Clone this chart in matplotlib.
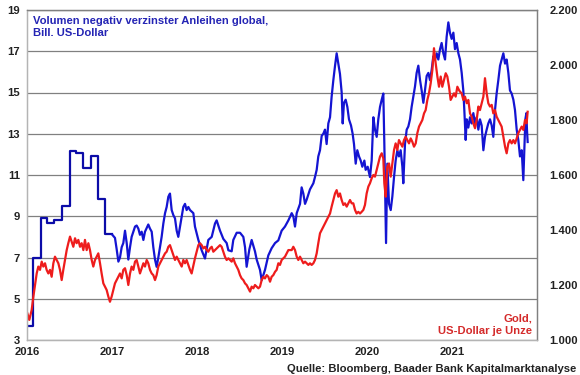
import matplotlib
matplotlib.use("Agg")
import matplotlib.pyplot as plt

plt.rcParams['font.family'] = ['Liberation Sans', 'DejaVu Sans']
plt.rcParams['font.weight'] = 'bold'

# Volumen negativ verzinster Anleihen (Bill. USD), 2016 monatlich
BLUE_2016_X = [2016.0, 2016.07, 2016.16, 2016.24, 2016.32, 2016.41, 2016.50,
               2016.58, 2016.66, 2016.75, 2016.83, 2016.92]
BLUE_2016_Y = [3.7, 7.0, 8.93, 8.66, 8.82, 9.51, 12.15, 12.05, 11.35, 11.94, 9.82, 8.14]

# ab 2017 täglich
BLUE_X = [2017.004, 2017.035, 2017.055, 2017.075, 2017.094, 2017.114, 2017.133, 2017.153,
          2017.173, 2017.192, 2017.212, 2017.231, 2017.271, 2017.29, 2017.31, 2017.329,
          2017.349, 2017.369, 2017.388, 2017.427, 2017.447, 2017.467, 2017.486, 2017.506,
          2017.525, 2017.545, 2017.565, 2017.584, 2017.604, 2017.624, 2017.643, 2017.663,
          2017.682, 2017.702, 2017.722, 2017.741, 2017.761, 2017.78, 2017.8, 2017.82,
          2017.839, 2017.859, 2017.878, 2017.898, 2017.918, 2017.957, 2017.976, 2018.016,
          2018.055, 2018.094, 2018.133, 2018.173, 2018.212, 2018.231, 2018.271, 2018.31,
          2018.349, 2018.369, 2018.408, 2018.427, 2018.467, 2018.506, 2018.545, 2018.565,
          2018.584, 2018.616, 2018.643, 2018.682, 2018.702, 2018.741, 2018.761, 2018.8,
          2018.839, 2018.878, 2018.918, 2018.957, 2018.996, 2019.035, 2019.075, 2019.114,
          2019.133, 2019.153, 2019.173, 2019.212, 2019.231, 2019.251, 2019.271, 2019.29,
          2019.329, 2019.369, 2019.388, 2019.408, 2019.427, 2019.447, 2019.467, 2019.486,
          2019.506, 2019.525, 2019.545, 2019.565, 2019.584, 2019.604, 2019.624, 2019.643,
          2019.663, 2019.682, 2019.702, 2019.714, 2019.729, 2019.749, 2019.769, 2019.788,
          2019.812, 2019.831, 2019.847, 2019.867, 2019.886, 2019.906, 2019.926, 2019.945,
          2019.969, 2019.984, 2020.008, 2020.035, 2020.055, 2020.075, 2020.094, 2020.114,
          2020.133, 2020.153, 2020.173, 2020.192, 2020.204, 2020.216, 2020.224, 2020.239,
          2020.259, 2020.279, 2020.298, 2020.318, 2020.337, 2020.357, 2020.376, 2020.396,
          2020.416, 2020.427, 2020.447, 2020.467, 2020.486, 2020.506, 2020.525, 2020.545,
          2020.565, 2020.584, 2020.604, 2020.624, 2020.643, 2020.663, 2020.682, 2020.702,
          2020.722, 2020.741, 2020.761, 2020.78, 2020.8, 2020.82, 2020.839, 2020.859,
          2020.878, 2020.898, 2020.918, 2020.937, 2020.957, 2020.976, 2020.996, 2021.016,
          2021.035, 2021.055, 2021.075, 2021.094, 2021.114, 2021.133, 2021.145, 2021.161,
          2021.173, 2021.192, 2021.212, 2021.231, 2021.251, 2021.271, 2021.29, 2021.31,
          2021.329, 2021.349, 2021.369, 2021.388, 2021.408, 2021.427, 2021.447, 2021.467,
          2021.486, 2021.506, 2021.525, 2021.545, 2021.565, 2021.584, 2021.604, 2021.624,
          2021.643, 2021.663, 2021.682, 2021.702, 2021.722, 2021.741, 2021.761, 2021.78,
          2021.8, 2021.82, 2021.831, 2021.839, 2021.851, 2021.863, 2021.875, 2021.882,
          2021.89]
BLUE_Y = [8.10, 7.95, 7.4, 6.8, 7.0, 7.5, 7.7, 8.3,
          7.7, 6.9, 7.5, 8.0, 8.5, 8.55, 8.4, 8.1,
          8.25, 7.85, 8.25, 8.6, 8.4, 8.25, 7.5, 6.9,
          6.55, 7.0, 7.5, 8.0, 8.65, 9.15, 9.45, 9.95,
          10.1, 9.3, 9.05, 8.9, 8.3, 8.0, 8.5, 9.0,
          9.45, 9.6, 9.3, 9.45, 9.3, 9.15, 8.5, 7.85,
          7.35, 6.95, 7.85, 8.0, 8.65, 8.8, 8.3, 7.9,
          7.7, 7.35, 7.3, 7.85, 8.2, 8.2, 8.0, 7.5,
          6.55, 7.4, 7.85, 7.3, 6.9, 6.4, 5.9, 6.4,
          7.1, 7.45, 7.7, 7.83, 8.3, 8.5, 8.8, 9.15,
          9.0, 8.5, 9.15, 9.6, 10.4, 10.1, 9.6, 9.8,
          10.3, 10.6, 10.9, 11.25, 11.9, 12.2, 12.9, 13.0,
          13.2, 12.5, 13.5, 13.8, 14.8, 15.6, 16.3, 16.9,
          16.4, 15.9, 15.0, 13.5, 14.5, 14.65, 14.3, 13.7,
          13.4, 13.0, 12.5, 11.55, 12.2, 11.9, 11.7, 11.4,
          11.7, 11.25, 11.4, 10.9, 11.7, 13.8, 13.2, 12.85,
          13.7, 14.3, 14.65, 14.95, 12.5, 9.5, 7.7, 11.55,
          9.6, 9.3, 9.95, 10.9, 11.7, 12.2, 11.9, 12.2,
          11.4, 10.6, 12.5, 13.2, 13.35, 13.7, 14.3, 14.8,
          15.3, 15.95, 16.3, 15.6, 15.1, 14.5, 15.1, 15.8,
          15.95, 15.6, 16.1, 16.75, 16.6, 16.9, 16.6, 17.1,
          17.4, 16.9, 16.6, 17.7, 18.4, 17.9, 17.6, 17.9,
          17.1, 17.4, 16.9, 16.6, 15.95, 15.1, 14.15, 12.7,
          13.7, 13.3, 13.8, 13.5, 14.0, 13.5, 13.8, 13.2,
          13.7, 13.4, 12.2, 12.85, 13.2, 13.5, 13.7, 13.4,
          12.85, 14.15, 14.95, 15.6, 16.3, 16.6, 16.9, 16.4,
          16.6, 15.95, 15.1, 14.95, 14.65, 14.15, 13.2, 12.7,
          11.9, 12.2, 11.4, 10.75, 12.2, 13.7, 14.0, 13.2,
          12.6]

# Gold, US-Dollar je Unze
GOLD_X = [2016.004, 2016.027, 2016.055, 2016.075, 2016.094, 2016.114, 2016.133, 2016.153,
          2016.173, 2016.192, 2016.212, 2016.231, 2016.251, 2016.271, 2016.29, 2016.31,
          2016.329, 2016.349, 2016.369, 2016.388, 2016.408, 2016.427, 2016.447, 2016.467,
          2016.486, 2016.506, 2016.525, 2016.545, 2016.565, 2016.584, 2016.604, 2016.624,
          2016.643, 2016.663, 2016.682, 2016.702, 2016.722, 2016.741, 2016.761, 2016.78,
          2016.8, 2016.82, 2016.839, 2016.859, 2016.878, 2016.898, 2016.918, 2016.937,
          2016.957, 2016.976, 2016.996, 2017.016, 2017.035, 2017.055, 2017.075, 2017.094,
          2017.114, 2017.133, 2017.153, 2017.173, 2017.192, 2017.212, 2017.231, 2017.251,
          2017.271, 2017.29, 2017.31, 2017.329, 2017.349, 2017.369, 2017.388, 2017.408,
          2017.427, 2017.447, 2017.467, 2017.486, 2017.506, 2017.525, 2017.545, 2017.565,
          2017.584, 2017.604, 2017.624, 2017.643, 2017.663, 2017.682, 2017.702, 2017.722,
          2017.741, 2017.761, 2017.78, 2017.8, 2017.82, 2017.839, 2017.859, 2017.878,
          2017.898, 2017.918, 2017.937, 2017.957, 2017.976, 2017.996, 2018.016, 2018.035,
          2018.055, 2018.075, 2018.094, 2018.114, 2018.133, 2018.153, 2018.173, 2018.192,
          2018.212, 2018.231, 2018.251, 2018.271, 2018.29, 2018.31, 2018.329, 2018.349,
          2018.369, 2018.388, 2018.408, 2018.427, 2018.447, 2018.467, 2018.486, 2018.506,
          2018.525, 2018.545, 2018.565, 2018.584, 2018.604, 2018.624, 2018.643, 2018.663,
          2018.682, 2018.702, 2018.722, 2018.741, 2018.761, 2018.78, 2018.8, 2018.82,
          2018.839, 2018.859, 2018.878, 2018.898, 2018.918, 2018.937, 2018.957, 2018.976,
          2018.996, 2019.035, 2019.075, 2019.114, 2019.133, 2019.153, 2019.173, 2019.192,
          2019.212, 2019.231, 2019.251, 2019.271, 2019.29, 2019.31, 2019.329, 2019.349,
          2019.369, 2019.388, 2019.408, 2019.427, 2019.447, 2019.467, 2019.486, 2019.506,
          2019.525, 2019.545, 2019.565, 2019.584, 2019.604, 2019.624, 2019.643, 2019.663,
          2019.682, 2019.702, 2019.722, 2019.741, 2019.761, 2019.78, 2019.8, 2019.82,
          2019.839, 2019.859, 2019.878, 2019.898, 2019.918, 2019.937, 2019.957, 2019.976,
          2019.996, 2020.016, 2020.035, 2020.055, 2020.075, 2020.094, 2020.114, 2020.133,
          2020.153, 2020.173, 2020.192, 2020.204, 2020.22, 2020.239, 2020.259, 2020.279,
          2020.298, 2020.318, 2020.337, 2020.357, 2020.376, 2020.396, 2020.416, 2020.435,
          2020.455, 2020.475, 2020.494, 2020.514, 2020.533, 2020.553, 2020.573, 2020.592,
          2020.612, 2020.631, 2020.651, 2020.671, 2020.69, 2020.71, 2020.729, 2020.749,
          2020.769, 2020.788, 2020.808, 2020.828, 2020.847, 2020.867, 2020.886, 2020.906,
          2020.926, 2020.945, 2020.965, 2020.984, 2021.004, 2021.024, 2021.043, 2021.063,
          2021.082, 2021.094, 2021.114, 2021.133, 2021.153, 2021.173, 2021.192, 2021.212,
          2021.231, 2021.251, 2021.271, 2021.29, 2021.31, 2021.329, 2021.349, 2021.369,
          2021.388, 2021.408, 2021.427, 2021.447, 2021.467, 2021.486, 2021.506, 2021.525,
          2021.545, 2021.565, 2021.584, 2021.604, 2021.624, 2021.643, 2021.663, 2021.682,
          2021.702, 2021.722, 2021.741, 2021.761, 2021.78, 2021.8, 2021.82, 2021.839,
          2021.859, 2021.878, 2021.89]
GOLD_Y = [1097, 1073, 1109, 1158, 1200, 1242, 1267, 1255,
          1285, 1267, 1279, 1255, 1242, 1255, 1230, 1279,
          1303, 1291, 1279, 1255, 1218, 1255, 1291, 1327,
          1352, 1376, 1358, 1339, 1370, 1352, 1364, 1339,
          1352, 1327, 1364, 1327, 1352, 1327, 1291, 1267,
          1291, 1303, 1315, 1279, 1242, 1206, 1194, 1182,
          1158, 1139, 1158, 1182, 1206, 1218, 1230, 1242,
          1224, 1255, 1261, 1236, 1200, 1242, 1267, 1255,
          1285, 1291, 1267, 1242, 1261, 1279, 1267, 1291,
          1279, 1255, 1242, 1236, 1218, 1236, 1267, 1279,
          1291, 1303, 1315, 1321, 1339, 1345, 1327, 1309,
          1291, 1303, 1291, 1279, 1267, 1291, 1279, 1291,
          1273, 1255, 1242, 1270, 1297, 1321, 1345, 1352,
          1345, 1333, 1339, 1327, 1321, 1333, 1339, 1321,
          1327, 1333, 1339, 1345, 1339, 1321, 1303, 1291,
          1297, 1291, 1285, 1297, 1279, 1267, 1255, 1236,
          1224, 1218, 1206, 1200, 1188, 1176, 1194, 1188,
          1200, 1194, 1188, 1194, 1218, 1230, 1224, 1236,
          1230, 1212, 1230, 1236, 1248, 1255, 1279, 1273,
          1291, 1303, 1327, 1327, 1339, 1327, 1303, 1291,
          1303, 1291, 1279, 1285, 1279, 1273, 1279, 1273,
          1279, 1291, 1315, 1352, 1388, 1400, 1412, 1424,
          1436, 1448, 1460, 1485, 1509, 1533, 1545, 1521,
          1533, 1509, 1491, 1497, 1485, 1497, 1509, 1497,
          1497, 1473, 1460, 1466, 1460, 1466, 1473, 1491,
          1533, 1558, 1570, 1588, 1600, 1594, 1618, 1642,
          1667, 1679, 1660, 1570, 1521, 1630, 1642, 1594,
          1642, 1691, 1715, 1691, 1727, 1715, 1703, 1727,
          1739, 1727, 1715, 1733, 1721, 1703, 1715, 1752,
          1776, 1788, 1800, 1824, 1836, 1873, 1897, 1933,
          1982, 2061, 2006, 1958, 1921, 1958, 1921, 1945,
          1970, 1958, 1921, 1873, 1885, 1897, 1885, 1921,
          1909, 1903, 1897, 1873, 1885, 1861, 1873, 1824,
          1812, 1788, 1770, 1800, 1849, 1836, 1861, 1885,
          1952, 1897, 1861, 1849, 1855, 1824, 1836, 1812,
          1800, 1788, 1776, 1739, 1703, 1679, 1715, 1727,
          1715, 1727, 1715, 1733, 1752, 1764, 1776, 1764,
          1800, 1788, 1830]

X_TICKS = [2016, 2017, 2018, 2019, 2020, 2021]
LEFT_TICKS = [3, 5, 7, 9, 11, 13, 15, 17, 19]
RIGHT_TICKS = [1000, 1200, 1400, 1600, 1800, 2000, 2200]
RIGHT_LABELS = ['1.000', '1.200', '1.400', '1.600', '1.800', '2.000', '2.200']

BLUE = '#1414d2'
RED = '#ee1c1c'
GRID = '#808080'
FS = 8.1

fig = plt.figure(figsize=(5.8, 3.75), dpi=100)
ax = fig.add_axes([27 / 580, 35 / 375, 510 / 580, 330 / 375])
ax2 = ax.twinx()

# Blau: 2016 Monatswerte als Stufen, danach täglich
ax.step(BLUE_2016_X + [2017.0], BLUE_2016_Y + [BLUE_2016_Y[-1]], where='post',
        color='#0c0ca8', lw=1.6)
ax.plot(BLUE_X, BLUE_Y, color=BLUE, lw=1.6)
ax2.plot(GOLD_X, GOLD_Y, color=RED, lw=1.6)

ax.set_xlim(2016, 2022)
ax.set_ylim(3, 19)
ax2.set_ylim(1000, 2200)
ax.set_xticks(X_TICKS)
ax.set_xticklabels([str(t) for t in X_TICKS])
ax.set_yticks(LEFT_TICKS)
ax.set_yticklabels([str(t) for t in LEFT_TICKS])
ax2.set_yticks(RIGHT_TICKS)
ax2.set_yticklabels(RIGHT_LABELS)

ax.grid(axis='y', color=GRID, lw=0.9)
ax.set_axisbelow(True)
ax.tick_params(axis='x', length=0, labelsize=FS, pad=5, colors='#222222')
ax.tick_params(axis='y', length=0, labelsize=FS, pad=5, colors='#222222')
ax2.tick_params(axis='y', length=0, labelsize=FS, pad=9, colors='#222222')

for a in (ax, ax2):
    for side in ('left', 'bottom'):
        a.spines[side].set_color('#b4b4b4')
    a.spines['top'].set_color(GRID)
    a.spines['right'].set_color(GRID)
    for s in a.spines.values():
        s.set_linewidth(0.9)

ax.text(0.012, 0.982, 'Volumen negativ verzinster Anleihen global,\nBill. US-Dollar',
        transform=ax.transAxes, ha='left', va='top', color='#2424b4',
        fontsize=FS, fontweight='bold', linespacing=1.3)
ax.text(0.99, 0.012, 'Gold,\nUS-Dollar je Unze', transform=ax.transAxes,
        ha='right', va='bottom', color='#d42a2a', fontsize=FS, fontweight='bold',
        linespacing=1.3, multialignment='right')
fig.text(0.993, 0.002, 'Quelle: Bloomberg, Baader Bank Kapitalmarktanalyse',
         ha='right', va='bottom', fontsize=FS, fontweight='bold', color='#222222')

fig.savefig('out.png', dpi=100)
